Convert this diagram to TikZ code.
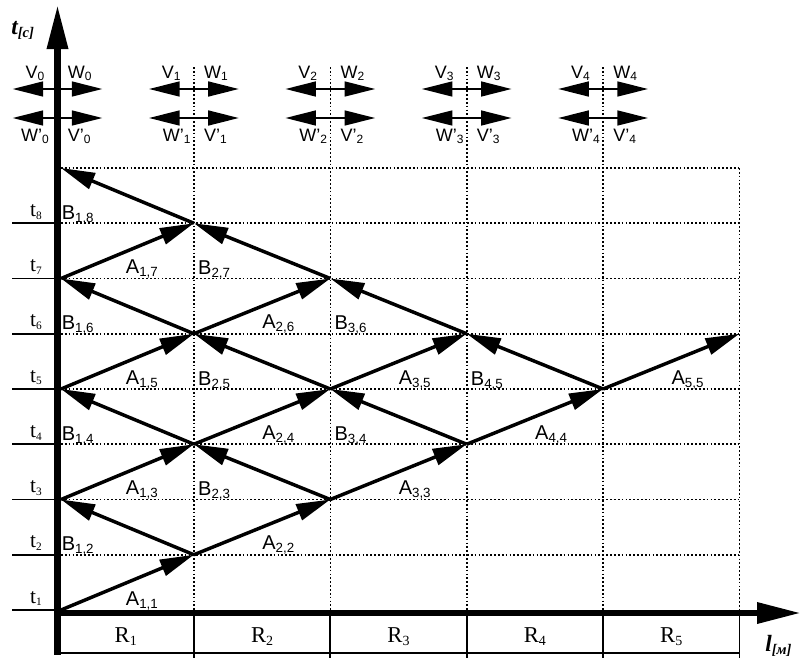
\documentclass[tikz,border=0pt]{standalone}
\usepackage{fontspec}
\setmainfont{Liberation Serif}
\newfontfamily\sansf{Liberation Sans}
\usetikzlibrary{arrows.meta}

% lowered small subscript in the current family
\newcommand\lsub[2][10]{\raisebox{-0.3ex}{\fontsize{#1}{#1}\selectfont #2}}

\tikzset{
  axisline/.style={line width=4.8pt, -{Triangle[length=33pt,width=15pt]}},
  ray/.style={line width=2.6pt, -{Triangle[length=25.5pt,width=12.5pt]}},
  twoway/.style={line width=1.9pt, {Triangle[length=23pt,width=11pt]}-{Triangle[length=23pt,width=11pt]}},
  griddot/.style={line width=1.2pt, dash pattern=on 1.3pt off 1.6pt},
  thin rule/.style={line width=1.3pt},
  lbl/.style={inner sep=0pt, font=\sansf\fontsize{15}{15}\selectfont},
  vlbl/.style={inner sep=0pt, font=\sansf\fontsize{13.5}{13.5}\selectfont},
  tlbl/.style={inner sep=0pt, anchor=base, font=\fontsize{16}{16}\selectfont},
  rlbl/.style={inner sep=0pt, anchor=base, font=\fontsize{17}{17}\selectfont},
  axlbl/.style={inner sep=0pt, anchor=base west, font=\fontsize{17.5}{17.5}\selectfont\bfseries\itshape},
}

\begin{document}
\begin{tikzpicture}[x=0.75pt,y=-0.75pt]
\useasboundingbox (0,0) rectangle (801,661);

% lattice points: column i, time level k
\foreach \k in {1,...,9}{
  \coordinate (p0-\k) at (61,{610-55.25*(\k-1)});
  \foreach \i in {1,...,5}
    \coordinate (p\i-\k) at ({57.5+136.4*\i},{610-55.25*(\k-1)});
}

% dotted grid
\foreach \k in {2,...,9}
  \draw[griddot] (p0-\k) -- (p5-\k);
\foreach \i in {1,...,4}{
  \coordinate (top\i) at ({57.5+136.4*\i},67);
  \draw[griddot] (top\i) -- (p\i-1);
}
\draw[griddot] (p5-9) -- (p5-1);

% segments R1..R5 under the l axis
\coordinate (bl) at (57.5,653);
\coordinate (br) at (739.5,653);
\draw[thin rule] (bl) -- (br);
\foreach \i in {1,...,5}{
  \coordinate (sa\i) at ({57.5+136.4*\i},614);
  \coordinate (sb\i) at ({57.5+136.4*\i},658);
  \draw[thin rule] (sa\i) -- (sb\i);
  \node[rlbl] (R\i) at ({57.5+136.4*(\i-0.5)},642) {R\lsub[10.5]{\i}};
}

% axes
\coordinate (vbot) at (57.5,654.5);
\coordinate (vtop) at (57.5,5);
\coordinate (hleft) at (55,613);
\coordinate (hright) at (801,613);
\draw[axisline] (vbot) -- (vtop);
\draw[axisline] (hleft) -- (hright);
\node[axlbl] (tlab) at (11,34) {t\lsub[11]{[c]}};
\node[axlbl] (llab) at (765,651) {l\lsub[11]{[м]}};

% time ticks t1..t8
\foreach \k in {1,...,8}{
  \coordinate (tk\k) at (12,{610-55.25*(\k-1)});
  \coordinate (tz\k) at (55,{610-55.25*(\k-1)});
  \draw[thin rule] (tk\k) -- (tz\k);
  \node[tlbl] (t\k) at (36,{603-55.25*(\k-1)}) {t\lsub[8.5]{\k}};
}

% wave pairs at each boundary
\foreach \i in {0,...,4}{
  \coordinate (ul\i) at ({57.5+136.4*\i-45},89);
  \coordinate (ur\i) at ({57.5+136.4*\i+45},89);
  \coordinate (ll\i) at ({57.5+136.4*\i-45},118);
  \coordinate (lr\i) at ({57.5+136.4*\i+45},118);
  \draw[twoway] (ul\i) -- (ur\i);
  \draw[twoway] (ll\i) -- (lr\i);
  \node[vlbl, anchor=base east] (V\i) at ({57.5+136.4*\i-13},78) {V\lsub[9]{\i}};
  \node[vlbl, anchor=base west] (W\i) at ({57.5+136.4*\i+10},78) {W\lsub[9]{\i}};
  \node[vlbl, anchor=base west] (Vp\i) at ({57.5+136.4*\i+10},141) {V’\lsub[9]{\i}};
}
\node[vlbl, anchor=base east] (Wp0) at (49,141) {W’\lsub[9]{0}};
\foreach \i in {1,...,4}
  \node[vlbl, anchor=base east] (Wp\i) at ({57.5+136.4*\i-3},141) {W’\lsub[9]{\i}};

% forward waves A
\foreach \a/\b/\c/\d in {0/1/1/2, 1/2/2/3, 2/3/3/4, 3/4/4/5, 4/5/5/6,
                         0/3/1/4, 1/4/2/5, 2/5/3/6, 0/5/1/6, 1/6/2/7, 0/7/1/8}
  \draw[ray] (p\a-\b) -- (p\c-\d);
% reflected waves B
\foreach \a/\b/\c/\d in {1/2/0/3, 2/3/1/4, 3/4/2/5, 4/5/3/6, 1/4/0/5,
                         2/5/1/6, 3/6/2/7, 1/6/0/7, 2/7/1/8, 1/8/0/9}
  \draw[ray] (p\a-\b) -- (p\c-\d);

% wave labels
\foreach \i/\k in {1/1, 2/2, 3/3, 4/4, 5/5, 1/3, 2/4, 3/5, 1/5, 2/6, 1/7}
  \node[lbl, anchor=base west] (A\i-\k) at ({57.5+136.4*(\i-0.5)},{605-55.25*(\k-1)}) {A\lsub{\i,\k}};
\foreach \i/\k in {1/2, 2/3, 3/4, 4/5, 1/4, 2/5, 3/6, 1/6, 2/7, 1/8}
  \node[lbl, anchor=base west] (B\i-\k) at ({61.5+136.4*(\i-1)},{606-55.25*(\k-1)}) {B\lsub{\i,\k}};
\end{tikzpicture}
\end{document}
